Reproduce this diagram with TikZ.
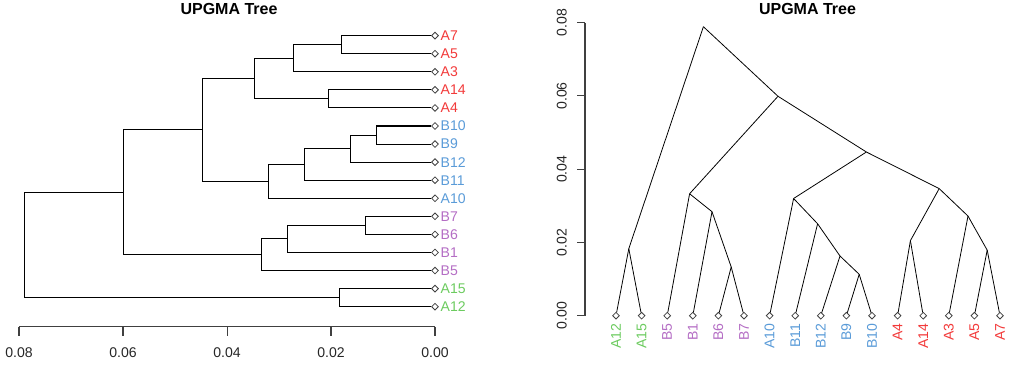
\documentclass[tikz,border=0pt]{standalone}
\usepackage{fontspec}
\setmainfont{Liberation Sans}
\usetikzlibrary{shapes.geometric}

\definecolor{grpR}{HTML}{F23A3A}
\definecolor{grpB}{HTML}{5A9BD8}
\definecolor{grpP}{HTML}{B46DC4}
\definecolor{grpG}{HTML}{6CCB5F}

% tips: name / position / colour
\newcommand{\tiplist}{A12/0/grpG, A15/1/grpG, B5/2/grpP, B1/3/grpP, B6/4/grpP, B7/5/grpP,
  A10/6/grpB, B11/7/grpB, B12/8/grpB, B9/9/grpB, B10/10/grpB,
  A4/11/grpR, A14/12/grpR, A3/13/grpR, A5/14/grpR, A7/15/grpR}
% inner nodes: name / position / height
\newcommand{\joinlist}{a57/14.5/0.0179, a357/13.75/0.0272, a414/11.5/0.0205, red/12.625/0.0347,
  b910/9.5/0.0113, b912/8.75/0.0163, b1112/7.875/0.0251, blue/6.9375/0.0320, ab/9.78125/0.0447,
  b67/4.5/0.0133, b167/3.75/0.0284, purple/2.875/0.0333, inner/6.328/0.0599,
  a1215/0.5/0.0183, root/3.414/0.0789}
% branches: parent / child
\newcommand{\branchlist}{root/inner, root/a1215, a1215/A12, a1215/A15, inner/ab, inner/purple,
  purple/B5, purple/b167, b167/B1, b167/b67, b67/B6, b67/B7, ab/blue, ab/red,
  blue/A10, blue/b1112, b1112/B11, b1112/b912, b912/B12, b912/b910, b910/B9, b910/B10,
  red/a414, red/a357, a414/A4, a414/A14, a357/A3, a357/a57, a57/A5, a57/A7}

\tikzset{
  tip/.style={diamond, draw=black!75, line width=0.45pt, inner sep=0pt, minimum size=0.14cm},
  leaflab/.style={inner sep=0.5pt, font=\fontsize{8}{9}\selectfont},
  ticklab/.style={inner sep=0pt, text=black!85, font=\fontsize{8}{9}\selectfont},
  title/.style={font=\bfseries\fontsize{9.1}{11}\selectfont},
  axis/.style={draw=black!75, line width=0.6pt},
}

\begin{document}
\begin{tikzpicture}
\useasboundingbox (0,0) rectangle (20.4,7.42);

% titles
\node[title] (ltitle) at (4.58,7.24) {UPGMA Tree};
\node[title] (rtitle) at (16.15,7.24) {UPGMA Tree};

% left: rectangular tree, x = height, y = tip
\begin{scope}[shift={(8.7,1.286)}, x={(-104cm,0cm)}, y={(0cm,0.3614cm)}]
\foreach \name/\p/\col in \tiplist {
  \node[tip] (L\name) at (0,\p) {};
  \node[leaflab, text=\col, anchor=west] (Llab\name) at ([xshift=0.09cm]L\name.center) {\name};
}
\foreach \name/\p/\h in \joinlist
  \coordinate (L\name) at (\h,\p);
\foreach \a/\b in \branchlist
  \draw[line width=0.6pt] (L\a) |- (L\b);
% axis
\draw[axis] (0.08,-1.107) -- (0,-1.107);
\foreach \t in {0.08,0.06,0.04,0.02,0.00} {
  \draw[axis] (\t,-1.107) -- (\t,-1.62);
  \node[ticklab] at (\t,-2.56) {\t};
}
\end{scope}

% right: cladogram, x = tip, y = height
\begin{scope}[shift={(12.32,1.106)}, x={(0.512cm,0cm)}, y={(0cm,73.25cm)}]
\foreach \name/\p/\col in \tiplist {
  \node[tip] (R\name) at (\p,0) {};
  \node[leaflab, text=\col, rotate=90, anchor=east] (Rlab\name) at ([yshift=-0.13cm]R\name.center) {\name};
}
\foreach \name/\p/\h in \joinlist
  \coordinate (R\name) at (\p,\h);
\foreach \a/\b in \branchlist
  \draw[line width=0.45pt] (R\a) -- (R\b);
% axis
\draw[axis] (-1.211,0) -- (-1.211,0.08);
\foreach \t in {0.00,0.02,0.04,0.06,0.08} {
  \draw[axis] (-1.211,\t) -- (-1.512,\t);
  \node[ticklab, rotate=90] at (-2.12,\t) {\t};
}
\end{scope}
\end{tikzpicture}
\end{document}
